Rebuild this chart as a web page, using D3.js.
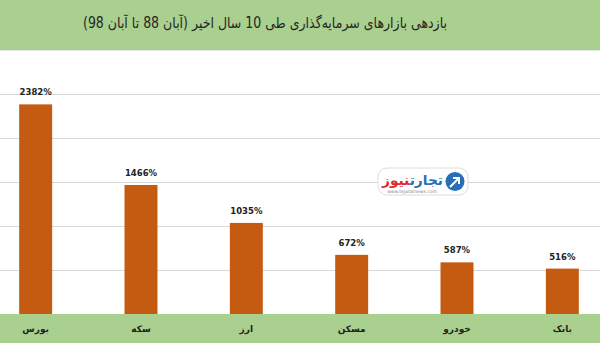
<!DOCTYPE html>
<html><head><meta charset="utf-8">
<script src="https://cdn.jsdelivr.net/npm/d3@7"></script>
<style>html,body{margin:0;padding:0;background:#fff;overflow:hidden}</style>
</head><body>
<svg id="c" width="600" height="343"></svg>
<script>
const title = "بازدهی بازارهای سرمایه‌گذاری طی 10 سال اخیر (آبان 88 تا آبان 98)";
const categories = ["بورس","سکه","ارز","مسکن","خودرو","بانک"];
const values = [2382,1466,1035,672,587,516];
const gridTicks = [0,500,1000,1500,2000,2500];

const W=600,H=343;
const svg=d3.select("#c");
const green="#a9d08e", barColor="#c55a11";
const baseY=314, topY=94;

svg.append("rect").attr("x",0).attr("y",0).attr("width",W).attr("height",H).attr("fill","#fff");
svg.append("rect").attr("x",0).attr("y",0).attr("width",W).attr("height",50).attr("fill",green);
svg.append("line").attr("x1",0).attr("x2",W).attr("y1",50.5).attr("y2",50.5).attr("stroke","#e6e6e6");
svg.append("text").attr("x",265).attr("y",28).attr("text-anchor","middle").attr("direction","rtl")
  .attr("font-family","DejaVu Sans, sans-serif").attr("font-size",15)
  .attr("textLength",364).attr("lengthAdjust","spacingAndGlyphs")
  .attr("fill","#262626").text(title);

const y=d3.scaleLinear().domain([0,2500]).range([baseY,topY]);
const x=d3.scaleBand().domain(categories).range([-17,615]).paddingInner(0.687).paddingOuter(0.3435);

svg.append("g").selectAll("line").data(gridTicks.slice(1)).join("line")
  .attr("x1",0).attr("x2",W).attr("y1",d=>Math.round(y(d))+0.5).attr("y2",d=>Math.round(y(d))+0.5)
  .attr("stroke","#d9d9d9").attr("stroke-width",1);

svg.append("rect").attr("x",0).attr("y",baseY).attr("width",W).attr("height",H-baseY).attr("fill",green);

svg.append("g").selectAll("rect").data(values).join("rect")
  .attr("x",(d,i)=>x(categories[i])).attr("width",x.bandwidth())
  .attr("y",d=>y(d)).attr("height",d=>baseY-y(d)).attr("fill",barColor);

svg.append("g").selectAll("text").data(values).join("text")
  .attr("x",(d,i)=>x(categories[i])+x.bandwidth()/2).attr("y",d=>y(d)-9)
  .attr("text-anchor","middle").attr("font-family","DejaVu Sans, sans-serif")
  .attr("font-size",8.5).attr("font-weight","bold").attr("fill","#222")
  .text(d=>d+"%");

svg.append("g").selectAll("text").data(categories).join("text")
  .attr("x",d=>x(d)+x.bandwidth()/2).attr("y",332)
  .attr("text-anchor","middle").attr("direction","rtl").attr("font-family","DejaVu Sans, sans-serif")
  .attr("font-size",9).attr("font-weight","bold").attr("fill","#222").text(d=>d);

// watermark logo
const lg=svg.append("g").attr("transform","translate(378,168)");
lg.append("rect").attr("width",90).attr("height",27).attr("rx",9).attr("fill","#fff").attr("stroke","#ddd");
lg.append("circle").attr("cx",77).attr("cy",13.5).attr("r",9.5).attr("fill","#2a6fb5");
lg.append("path").attr("d","M72,19 L81,10 M75,10 L81,10 L81,16").attr("stroke","#fff").attr("stroke-width",2).attr("fill","none");
lg.append("text").attr("x",65).attr("y",17).attr("text-anchor","start").attr("direction","rtl")
  .attr("font-family","DejaVu Sans, sans-serif").attr("font-size",13.5).attr("font-weight","bold")
  .attr("textLength",61).attr("lengthAdjust","spacingAndGlyphs")
  .html('<tspan fill="#2a6fb5">تجارت</tspan><tspan fill="#e0282d">نیوز</tspan>');
lg.append("text").attr("x",34).attr("y",24.5).attr("text-anchor","middle").attr("font-family","DejaVu Sans, sans-serif")
  .attr("font-size",4.5).attr("fill","#888").text("www.tejaratnews.com");
</script>
</body></html>
